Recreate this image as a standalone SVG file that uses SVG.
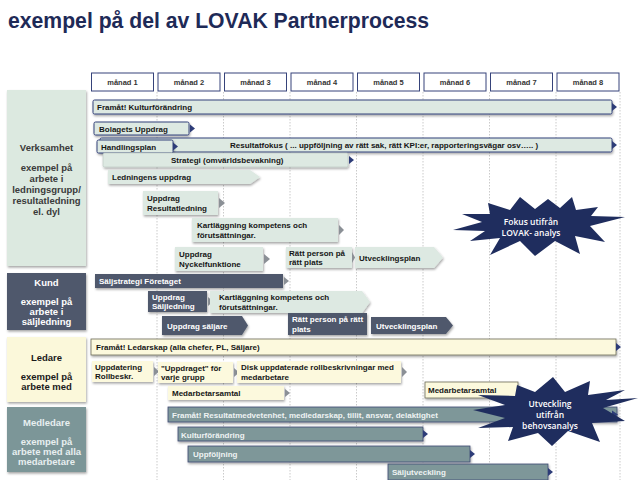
<svg xmlns="http://www.w3.org/2000/svg" width="640" height="480" viewBox="0 0 640 480">
<defs>
<filter id="sh" x="-10%" y="-30%" width="120%" height="180%"><feDropShadow dx="0.8" dy="1.6" stdDeviation="1" flood-color="#000" flood-opacity="0.35"/></filter>
</defs>
<style>
.t{font-family:"Liberation Sans",Arial,sans-serif;font-weight:bold;font-size:8px;fill:#161616}
.w{fill:#ffffff}
.lt{fill:#eef3f3}
.lbl{font-family:"Liberation Sans",Arial,sans-serif;font-weight:bold;font-size:9.5px;text-anchor:middle}
.mo{font-family:"Liberation Sans",Arial,sans-serif;font-weight:bold;font-size:7.5px;text-anchor:middle;fill:#333}
.mb{fill:#fff;stroke:#36437a;stroke-width:1}
.mint{fill:#dde9e2}
.mintb{fill:#dde9e2;stroke:#34427a;stroke-width:1}
.slate{fill:#4f596c}
.yel{fill:#fcf9dd}
.yelb{fill:#fcf9dd;stroke:#6d6b58;stroke-width:0.8}
.teal{fill:#7e9799;stroke:#3d4a73;stroke-width:0.8}
.navy{fill:#2d3c78}
.gt{fill:#8b9096}
.star{fill:#1f2d5e}
.st{font-family:"Open Sans","DejaVu Sans",sans-serif;font-weight:600;font-size:8.5px;text-anchor:middle;fill:#fff}
.grid{stroke:#bdbdbd;stroke-width:0.8;stroke-dasharray:1.5 1.5;fill:none}
</style>
<rect width="640" height="480" fill="#fff"/>
<text x="8" y="28" font-family="Liberation Sans,Arial,sans-serif" font-weight="bold" font-size="22" fill="#1e2a57" textLength="421" lengthAdjust="spacingAndGlyphs">exempel på del av LOVAK Partnerprocess</text>

<g id="connectors">
<path class="grid" d="M157 92V480M223.5 92V480M290 92V480M356.5 92V480M423 92V480M489.5 92V480M556 92V480M620 92V480"/>
</g>

<g id="months">
<rect class="mb" x="91.5" y="73" width="62" height="18"/><text class="mo" x="122.5" y="85">månad 1</text>
<rect class="mb" x="158" y="73" width="62" height="18"/><text class="mo" x="189" y="85">månad 2</text>
<rect class="mb" x="224.5" y="73" width="62" height="18"/><text class="mo" x="255.5" y="85">månad 3</text>
<rect class="mb" x="291" y="73" width="62" height="18"/><text class="mo" x="322" y="85">månad 4</text>
<rect class="mb" x="357.5" y="73" width="62" height="18"/><text class="mo" x="388.5" y="85">månad 5</text>
<rect class="mb" x="424" y="73" width="62" height="18"/><text class="mo" x="455" y="85">månad 6</text>
<rect class="mb" x="490.5" y="73" width="62" height="18"/><text class="mo" x="521.5" y="85">månad 7</text>
<rect class="mb" x="557" y="73" width="62" height="18"/><text class="mo" x="588" y="85">månad 8</text>
</g>

<g id="cat-verksamhet">
<rect x="7" y="90" width="79" height="176" fill="#dce9e0" filter="url(#sh)"/>
<text class="lbl" fill="#3a3a3a"><tspan x="46.5" y="151">Verksamhet</tspan><tspan x="46.5" y="171">exempel på</tspan><tspan x="46.5" y="182">arbete i</tspan><tspan x="46.5" y="193">ledningsgrupp/</tspan><tspan x="46.5" y="204">resultatledning</tspan><tspan x="46.5" y="215">el. dyl</tspan></text>
</g>
<g id="cat-kund">
<rect x="7" y="273" width="79" height="57" fill="#4f596c" filter="url(#sh)"/>
<text class="lbl" fill="#fff"><tspan x="46.5" y="286">Kund</tspan><tspan x="46.5" y="305">exempel på</tspan><tspan x="46.5" y="315">arbete i</tspan><tspan x="46.5" y="325">säljledning</tspan></text>
</g>
<g id="cat-ledare">
<rect x="7" y="337" width="79" height="65" fill="#fbf8da" filter="url(#sh)"/>
<text class="lbl" fill="#1a1a1a"><tspan x="46.5" y="361">Ledare</tspan><tspan x="46.5" y="380">exempel på</tspan><tspan x="46.5" y="390">arbete med</tspan></text>
</g>
<g id="cat-medledare">
<rect x="7" y="407" width="79" height="65" fill="#7c9698" filter="url(#sh)"/>
<text class="lbl" fill="#e8eff0"><tspan x="46.5" y="426">Medledare</tspan><tspan x="46.5" y="445">exempel på</tspan><tspan x="46.5" y="455">arbete med alla</tspan><tspan x="46.5" y="465">medarbetare</tspan></text>
</g>

<g id="v-kultur">
<rect class="mintb" x="93" y="100" width="519" height="14" rx="1.5" filter="url(#sh)"/>
<path class="navy" d="M612 103L617 107L612 111Z"/>
<text class="t" x="97" y="110">Framåt! Kulturförändring</text>
</g>
<g id="v-bolagets">
<rect class="mintb" x="94" y="122" width="95" height="13" rx="1.5" filter="url(#sh)"/>
<path class="navy" d="M190 124.5L195 128.5L190 132.5Z"/>
<text class="t" x="99" y="131.5">Bolagets Uppdrag</text>
</g>
<g id="v-resultatfokus">
<rect class="mintb" x="100" y="138" width="512" height="14" rx="1.5" filter="url(#sh)"/>
<path class="navy" d="M612 141L617 145L612 149Z"/>
<text class="t" x="230" y="148">Resultatfokus ( ... uppföljning av rätt sak, rätt KPI:er, rapporteringsvägar osv….. )</text>
</g>
<g id="v-handlingsplan">
<rect class="mintb" x="97" y="140" width="76" height="13" rx="1.5" filter="url(#sh)"/>
<path class="navy" d="M173 142.5L178 146.5L173 150.5Z"/>
<text class="t" x="101" y="149.5">Handlingsplan</text>
</g>
<g id="v-strategi">
<rect class="mint" x="103" y="153" width="245" height="14" rx="1.5" stroke="#b9c6c0" stroke-width="0.6" filter="url(#sh)"/>
<path class="navy" d="M349 156L354 160L349 164Z"/>
<text class="t" x="171" y="163">Strategi (omvärldsbevakning)</text>
</g>
<g id="v-ledningens">
<path class="mint" d="M108 170H250L260 177L250 184H108Z" filter="url(#sh)"/>
<text class="t" x="112" y="180">Ledningens uppdrag</text>
</g>
<g id="v-uppdrag-resultat">
<rect class="mint" x="143" y="191" width="75" height="24" filter="url(#sh)"/>
<path class="gt" d="M219 198L225 203L219 208Z"/>
<text class="t"><tspan x="147" y="200.5">Uppdrag</tspan><tspan x="147" y="210.5">Resultatledning</tspan></text>
</g>
<g id="v-kartlaggning">
<rect class="mint" x="192" y="218" width="146" height="24" filter="url(#sh)"/>
<path class="gt" d="M339 225L344 230L339 235Z"/>
<text class="t"><tspan x="197" y="227.5">Kartläggning kompetens och</tspan><tspan x="197" y="237.5">förutsättningar.</tspan></text>
</g>
<g id="v-nyckel">
<rect class="mint" x="175" y="247" width="88" height="24" filter="url(#sh)"/>
<path class="gt" d="M264 254L270 259L264 264Z"/>
<text class="t"><tspan x="179" y="256.5">Uppdrag</tspan><tspan x="179" y="266.5">Nyckelfunktione</tspan></text>
</g>
<g id="v-ratt-person">
<rect class="mint" x="286" y="247" width="66" height="21" filter="url(#sh)"/>
<path class="gt" d="M352 252L355 257.5L352 263Z"/>
<text class="t"><tspan x="289" y="255.5">Rätt person på</tspan><tspan x="289" y="265">rätt plats</tspan></text>
</g>
<g id="v-utvecklingsplan">
<path class="mint" d="M355 247H434L443 257.5L434 268H355Z" filter="url(#sh)"/>
<text class="t" x="359" y="260.5">Utvecklingsplan</text>
</g>
<g id="star-fokus">
<path class="star" d="M625 217L590 226L605 242L575 236L580 254L555 241L535 256L520 241L490 255L500 238L470 241L485 231L453 230L482 222L462 214L490 214L488 203L510 210L520 197L535 209L548 199L560 208L572 197L576 210L598 207L591 216Z"/>
<text class="st"><tspan x="531" y="225">Fokus utifrån</tspan><tspan x="531" y="236">LOVAK- analys</tspan></text>
</g>

<g id="k-saljstrategi">
<rect class="slate" x="95" y="274" width="188" height="14" filter="url(#sh)"/>
<path class="gt" d="M284 277L289 281L284 285Z"/>
<text class="t w" x="99" y="284">Säljstrategi  Företaget</text>
</g>
<g id="k-saljledning">
<rect class="slate" x="148" y="291" width="59" height="21" filter="url(#sh)"/>
<path class="gt" d="M208 297L213 301.5L208 306Z"/>
<text class="t w"><tspan x="152" y="299.5">Uppdrag</tspan><tspan x="152" y="309">Säljledning</tspan></text>
</g>
<g id="k-kartlaggning">
<path class="mint" d="M210 291H362L370 302L362 313H210Z" filter="url(#sh)"/>
<text class="t"><tspan x="219" y="299.5">Kartläggning kompetens och</tspan><tspan x="219" y="309.5">förutsättningar.</tspan></text>
</g>
<g id="k-saljare">
<path class="slate" d="M162 316H242L248 325.5L242 335H162Z" filter="url(#sh)"/>
<text class="t w" x="167" y="328.5">Uppdrag  säljare</text>
</g>
<g id="k-ratt-person">
<rect class="slate" x="288" y="313" width="79" height="22" filter="url(#sh)"/>
<text class="t w"><tspan x="292" y="322">Rätt person på rätt</tspan><tspan x="292" y="331.5">plats</tspan></text>
</g>
<g id="k-utvecklingsplan">
<path class="slate" d="M371 317H446L453 325.5L446 334H371Z" filter="url(#sh)"/>
<text class="t w" x="376" y="328.5">Utvecklingsplan</text>
</g>

<g id="l-ledarskap">
<rect class="yelb" x="91" y="339" width="525" height="16" filter="url(#sh)"/>
<path class="navy" d="M616 343L621 347L616 351Z"/>
<text class="t" x="96" y="350">Framåt! Ledarskap (alla chefer, PL, Säljare)</text>
</g>
<g id="l-uppdatering">
<rect class="yel" x="92" y="361" width="61" height="21" filter="url(#sh)"/>
<path class="gt" d="M154 367L159 371.5L154 376Z"/>
<text class="t"><tspan x="95" y="369.5">Uppdatering</tspan><tspan x="95" y="378.5">Rollbeskr.</tspan></text>
</g>
<g id="l-uppdraget">
<rect class="yel" x="158" y="362" width="75" height="21" filter="url(#sh)"/>
<path class="gt" d="M234 368L239 372.5L234 377Z"/>
<text class="t"><tspan x="161" y="371">"Uppdraget" för</tspan><tspan x="161" y="380">varje grupp</tspan></text>
</g>
<g id="l-disk">
<rect class="yel" x="237" y="361" width="164" height="22" filter="url(#sh)"/>
<path class="gt" d="M402 367L407 372L402 377Z"/>
<text class="t"><tspan x="241" y="370">Disk uppdaterade rollbeskrivningar med</tspan><tspan x="241" y="379.5">medarbetare</tspan></text>
</g>
<g id="l-medarbetarsamtal-1">
<rect class="yel" x="168" y="386" width="116" height="14" filter="url(#sh)"/>
<path class="gt" d="M285 389L290 393L285 397Z"/>
<text class="t" x="172" y="396">Medarbetarsamtal</text>
</g>
<g id="l-medarbetarsamtal-2">
<rect class="yelb" x="425" y="382" width="93" height="16" filter="url(#sh)"/>
<path class="gt" d="M519 386L523 390L519 394Z"/>
<text class="t" x="428" y="393">Medarbetarsamtal</text>
</g>

<g id="m-resultat">
<rect class="teal" x="168" y="407" width="449" height="15" filter="url(#sh)"/>
<path class="navy" d="M612 410.5L618 414.5L612 418.5Z"/>
<text class="t lt" x="172" y="417.5">Framåt! Resultatmedvetenhet, medledarskap, tillit, ansvar, delaktighet</text>
</g>
<g id="m-kultur">
<rect class="teal" x="178" y="427" width="245" height="14" filter="url(#sh)"/>
<path class="navy" d="M423 430L428 434L423 438Z"/>
<text class="t lt" x="181" y="437.5">Kulturförändring</text>
</g>
<g id="m-uppfoljning">
<rect class="teal" x="188" y="446" width="282" height="16" filter="url(#sh)"/>
<path class="navy" d="M470 450L475 454L470 458Z"/>
<text class="t lt" x="193" y="457">Uppföljning</text>
</g>
<g id="m-saljutveckling">
<rect class="teal" x="388" y="464" width="160" height="16" filter="url(#sh)"/>
<path class="navy" d="M548 468L553 472L548 476Z"/>
<text class="t lt" x="392" y="475">Säljutveckling</text>
</g>
<g id="star-utveckling">
<path class="star" d="M638 398L603 408L625 421L592 423L600 442L568 431L552 446L538 433L508 441L513 427L478 428L505 418L473 410L505 405L478 395L515 396L517 385L535 392L553 377L565 392L590 381L588 395L625 390L606 400Z"/>
<text class="st"><tspan x="550" y="407">Utveckling</tspan><tspan x="550" y="418">utifrån</tspan><tspan x="550" y="429">behovsanalys</tspan></text>
</g>
</svg>
